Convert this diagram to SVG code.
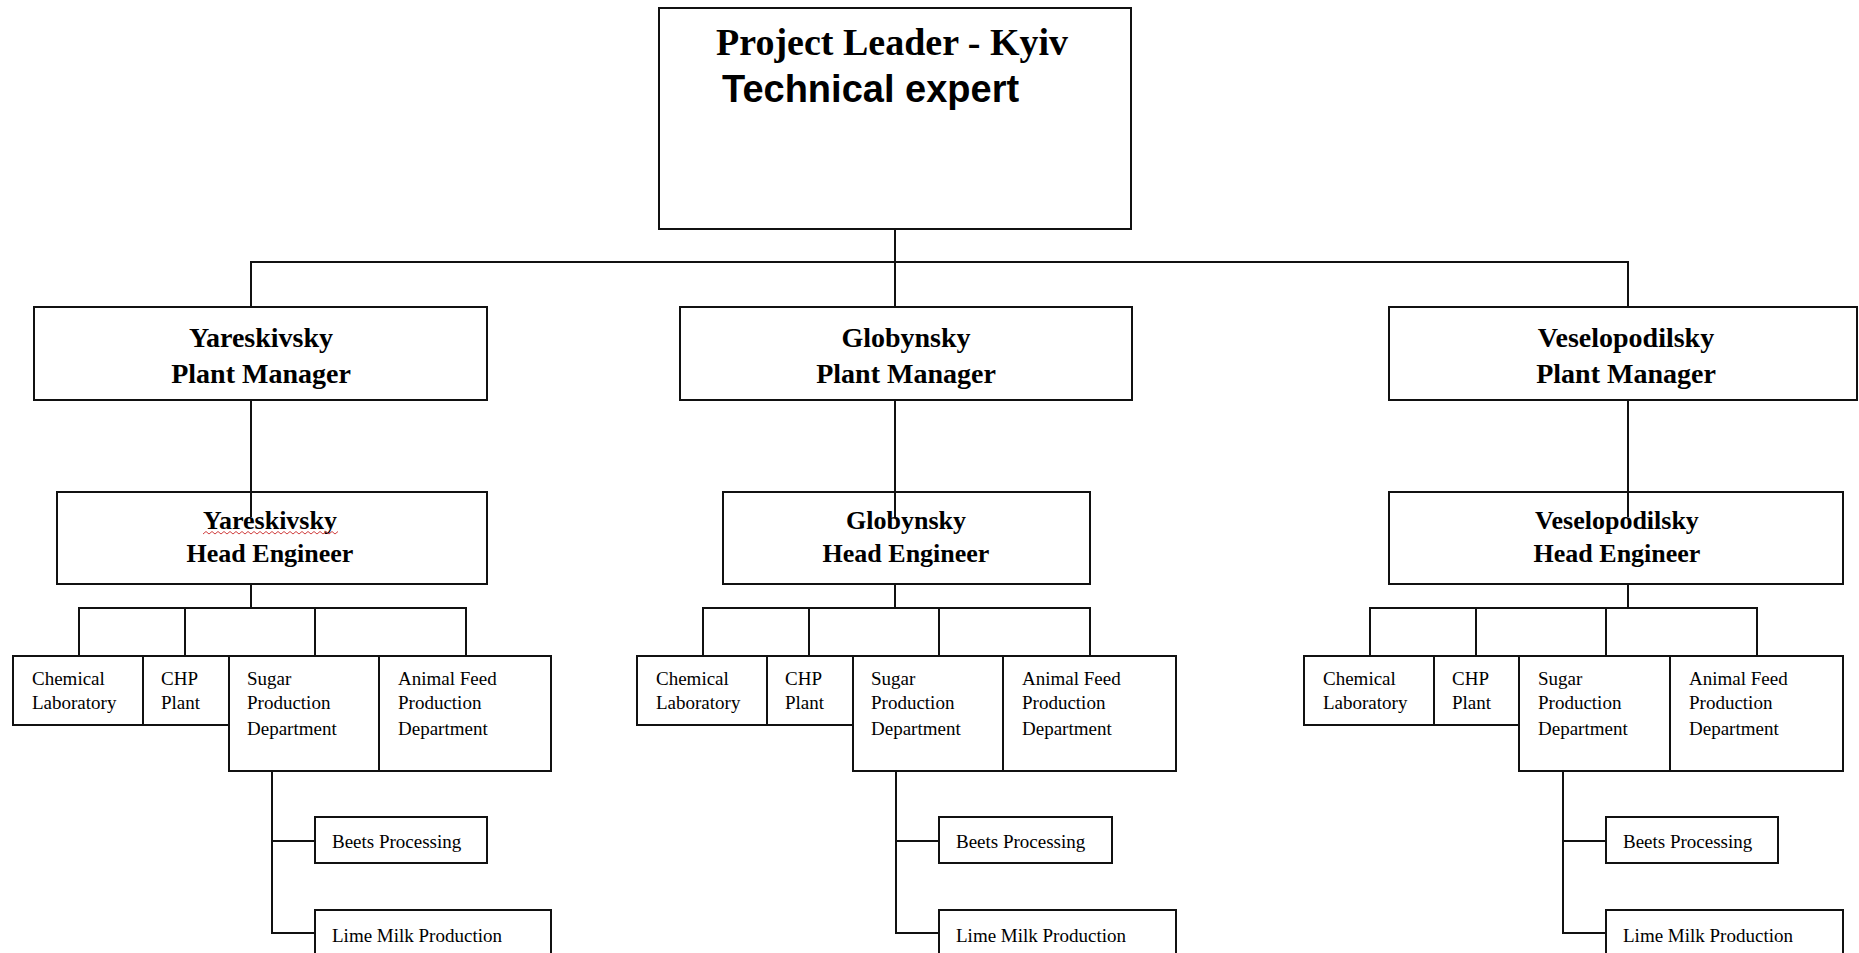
<svg xmlns="http://www.w3.org/2000/svg" width="1859" height="953" viewBox="0 0 1859 953">
<style>
.box{fill:#fff;stroke:#111;stroke-width:2}
.ln{fill:none;stroke:#111;stroke-width:2}
.h{font-family:"Liberation Serif",serif;font-weight:bold;font-size:28px;fill:#000;text-anchor:middle}
.he{font-family:"Liberation Serif",serif;font-weight:bold;font-size:26px;fill:#000;text-anchor:middle}
.d{font-family:"Liberation Serif",serif;font-size:19px;fill:#000}
.top1{font-family:"Liberation Serif",serif;font-weight:bold;font-size:38px;fill:#000}
.top2{font-family:"Liberation Sans",Arial,sans-serif;font-weight:bold;font-size:38px;fill:#000}
</style>
<rect width="1859" height="953" fill="#fff"/>
<g id="project-leader">
<rect class="box" x="659" y="8" width="472" height="221"/>
<text class="top1" x="716" y="55">Project Leader - Kyiv</text>
<text class="top2" x="722" y="102">Technical expert</text>
</g>
<g id="yareskivsky-pm">
<rect class="box" x="34" y="307" width="453" height="93"/>
<text class="h" x="261" y="347">Yareskivsky</text>
<text class="h" x="261" y="383">Plant Manager</text>
</g>
<g id="globynsky-pm">
<rect class="box" x="680" y="307" width="452" height="93"/>
<text class="h" x="906" y="347">Globynsky</text>
<text class="h" x="906" y="383">Plant Manager</text>
</g>
<g id="veselopodilsky-pm">
<rect class="box" x="1389" y="307" width="468" height="93"/>
<text class="h" x="1626" y="347">Veselopodilsky</text>
<text class="h" x="1626" y="383">Plant Manager</text>
</g>
<g id="yareskivsky-he">
<rect class="box" x="57" y="492" width="430" height="92"/>
<text class="he" x="270" y="529">Yareskivsky</text>
<path d="M203,534 l3,-2.5 3,2.5 3,-2.5 3,2.5 3,-2.5 3,2.5 3,-2.5 3,2.5 3,-2.5 3,2.5 3,-2.5 3,2.5 3,-2.5 3,2.5 3,-2.5 3,2.5 3,-2.5 3,2.5 3,-2.5 3,2.5 3,-2.5 3,2.5 3,-2.5 3,2.5 3,-2.5 3,2.5 3,-2.5 3,2.5 3,-2.5 3,2.5 3,-2.5 3,2.5 3,-2.5 3,2.5 3,-2.5 3,2.5 3,-2.5 3,2.5 3,-2.5 3,2.5 3,-2.5 3,2.5 3,-2.5 3,2.5 3,-2.5" fill="none" stroke="#d04040" stroke-width="1"/>
<text class="he" x="270" y="562">Head Engineer</text>
</g>
<g id="globynsky-he">
<rect class="box" x="723" y="492" width="367" height="92"/>
<text class="he" x="906" y="529">Globynsky</text>
<text class="he" x="906" y="562">Head Engineer</text>
</g>
<g id="veselopodilsky-he">
<rect class="box" x="1389" y="492" width="454" height="92"/>
<text class="he" x="1617" y="529">Veselopodilsky</text>
<text class="he" x="1617" y="562">Head Engineer</text>
</g>

<g id="y-chem"><rect class="box" x="13" y="656" width="130" height="69"/><text class="d" x="32" y="685">Chemical</text><text class="d" x="32" y="709">Laboratory</text></g>
<g id="y-chp"><rect class="box" x="143" y="656" width="86" height="69"/><text class="d" x="161" y="685">CHP</text><text class="d" x="161" y="709">Plant</text></g>
<g id="y-sugar"><rect class="box" x="229" y="656" width="150" height="115"/><text class="d" x="247" y="685">Sugar</text><text class="d" x="247" y="709">Production</text><text class="d" x="247" y="735">Department</text></g>
<g id="y-feed"><rect class="box" x="379" y="656" width="172" height="115"/><text class="d" x="398" y="685">Animal Feed</text><text class="d" x="398" y="709">Production</text><text class="d" x="398" y="735">Department</text></g>
<g id="y-beets"><rect class="box" x="315" y="817" width="172" height="46"/><text class="d" x="332" y="848">Beets Processing</text></g>
<g id="y-lime"><rect class="box" x="315" y="910" width="236" height="50"/><text class="d" x="332" y="942">Lime Milk Production</text></g>

<g id="g-chem"><rect class="box" x="637" y="656" width="130" height="69"/><text class="d" x="656" y="685">Chemical</text><text class="d" x="656" y="709">Laboratory</text></g>
<g id="g-chp"><rect class="box" x="767" y="656" width="86" height="69"/><text class="d" x="785" y="685">CHP</text><text class="d" x="785" y="709">Plant</text></g>
<g id="g-sugar"><rect class="box" x="853" y="656" width="150" height="115"/><text class="d" x="871" y="685">Sugar</text><text class="d" x="871" y="709">Production</text><text class="d" x="871" y="735">Department</text></g>
<g id="g-feed"><rect class="box" x="1003" y="656" width="173" height="115"/><text class="d" x="1022" y="685">Animal Feed</text><text class="d" x="1022" y="709">Production</text><text class="d" x="1022" y="735">Department</text></g>
<g id="g-beets"><rect class="box" x="939" y="817" width="173" height="46"/><text class="d" x="956" y="848">Beets Processing</text></g>
<g id="g-lime"><rect class="box" x="939" y="910" width="237" height="50"/><text class="d" x="956" y="942">Lime Milk Production</text></g>

<g id="v-chem"><rect class="box" x="1304" y="656" width="130" height="69"/><text class="d" x="1323" y="685">Chemical</text><text class="d" x="1323" y="709">Laboratory</text></g>
<g id="v-chp"><rect class="box" x="1434" y="656" width="85" height="69"/><text class="d" x="1452" y="685">CHP</text><text class="d" x="1452" y="709">Plant</text></g>
<g id="v-sugar"><rect class="box" x="1519" y="656" width="151" height="115"/><text class="d" x="1538" y="685">Sugar</text><text class="d" x="1538" y="709">Production</text><text class="d" x="1538" y="735">Department</text></g>
<g id="v-feed"><rect class="box" x="1670" y="656" width="173" height="115"/><text class="d" x="1689" y="685">Animal Feed</text><text class="d" x="1689" y="709">Production</text><text class="d" x="1689" y="735">Department</text></g>
<g id="v-beets"><rect class="box" x="1606" y="817" width="172" height="46"/><text class="d" x="1623" y="848">Beets Processing</text></g>
<g id="v-lime"><rect class="box" x="1606" y="910" width="237" height="50"/><text class="d" x="1623" y="942">Lime Milk Production</text></g>

<g id="connectors">
<path class="ln" d="M895,229 V307"/>
<path class="ln" d="M251,307 V262 H1628 V307"/>
<path class="ln" d="M251,400 V517 M895,400 V517 M1628,400 V517"/>
<path class="ln" d="M251,584 V608 M79,656 V608 H466 V656 M185,608 V656 M315,608 V656 M272,771 V933 H315 M272,841 H315"/>
<path class="ln" d="M895,584 V608 M703,656 V608 H1090 V656 M809,608 V656 M939,608 V656 M896,771 V933 H939 M896,841 H939"/>
<path class="ln" d="M1628,584 V608 M1370,656 V608 H1757 V656 M1476,608 V656 M1606,608 V656 M1563,771 V933 H1606 M1563,841 H1606"/>
</g>
</svg>
